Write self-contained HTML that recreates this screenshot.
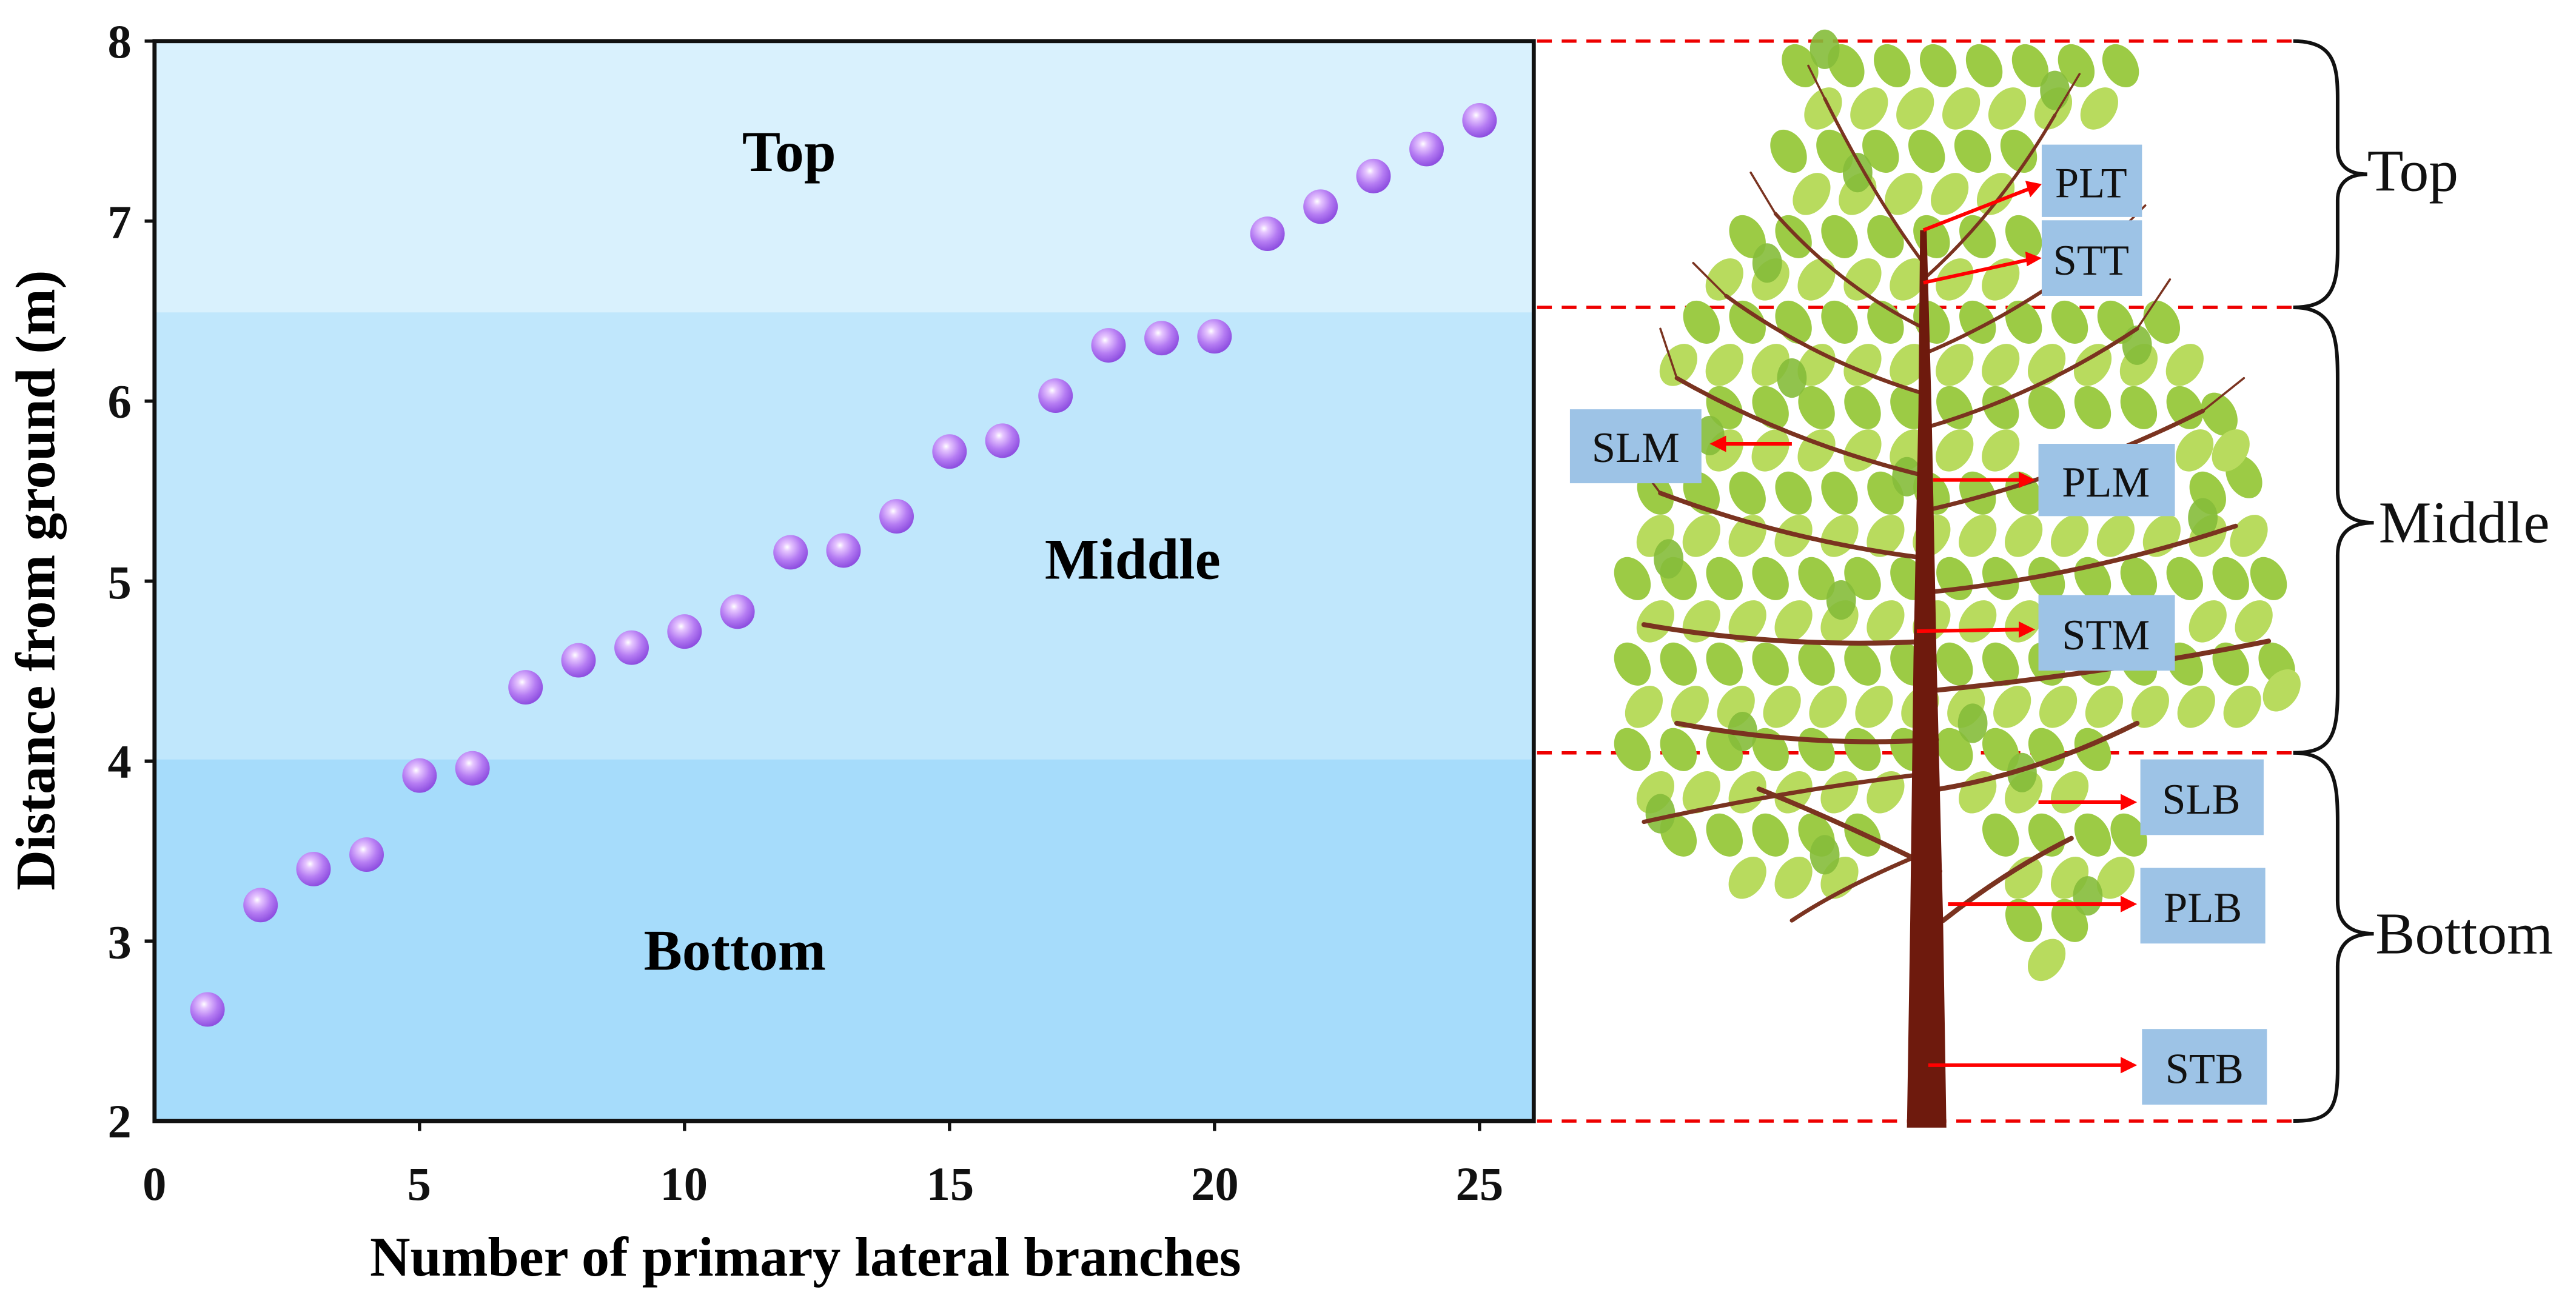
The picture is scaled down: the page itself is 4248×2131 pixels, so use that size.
<!DOCTYPE html>
<html><head><meta charset="utf-8"><style>html,body{margin:0;padding:0;background:#fff}svg{display:block}</style></head>
<body>
<svg width="4248" height="2131" viewBox="0 0 1567 786" preserveAspectRatio="none" xmlns="http://www.w3.org/2000/svg" font-family="'Liberation Serif', serif">
<defs>
<radialGradient id="ball" cx="0.4" cy="0.35" r="0.65">
<stop offset="0" stop-color="#ffffff"/><stop offset="0.18" stop-color="#e6c6ff"/><stop offset="0.6" stop-color="#b57cf3"/><stop offset="1" stop-color="#8e4fe0"/>
</radialGradient>
<ellipse id="la" rx="10" ry="14" transform="rotate(-30)"/>
<ellipse id="lb" rx="10" ry="14" transform="rotate(35)"/>
<ellipse id="lc" rx="9" ry="12"/>
</defs>
<rect x="94" y="25" width="839" height="165" fill="#d9f1fd"/>
<rect x="94" y="190" width="839" height="272" fill="#c0e7fc"/>
<rect x="94" y="462" width="839" height="220" fill="#a6dcfb"/>
<rect x="94" y="25" width="839" height="657" fill="none" stroke="#111" stroke-width="2.5"/>
<g stroke="#111" stroke-width="2">
<line x1="88" y1="25" x2="94" y2="25"/><line x1="88" y1="134.5" x2="94" y2="134.5"/><line x1="88" y1="244" x2="94" y2="244"/><line x1="88" y1="353.5" x2="94" y2="353.5"/><line x1="88" y1="463" x2="94" y2="463"/><line x1="88" y1="572.5" x2="94" y2="572.5"/>
<line x1="255.2" y1="682" x2="255.2" y2="688"/><line x1="416.4" y1="682" x2="416.4" y2="688"/><line x1="577.6" y1="682" x2="577.6" y2="688"/><line x1="738.8" y1="682" x2="738.8" y2="688"/><line x1="900" y1="682" x2="900" y2="688"/>
</g>
<g font-weight="bold" font-size="29" text-anchor="end" fill="#111">
<text x="80" y="35">8</text><text x="80" y="145">7</text><text x="80" y="254">6</text><text x="80" y="364">5</text><text x="80" y="473">4</text><text x="80" y="583">3</text><text x="80" y="692">2</text>
</g>
<g font-weight="bold" font-size="29" text-anchor="middle" fill="#111">
<text x="94" y="730">0</text><text x="255" y="730">5</text><text x="416" y="730">10</text><text x="578" y="730">15</text><text x="739" y="730">20</text><text x="900" y="730">25</text>
</g>
<text x="490" y="776" font-weight="bold" font-size="34" text-anchor="middle">Number of primary lateral branches</text>
<text transform="translate(33,353) rotate(-90)" font-weight="bold" font-size="34" text-anchor="middle">Distance from ground (m)</text>
<g font-weight="bold" font-size="35" text-anchor="middle">
<text x="480" y="104">Top</text><text x="689" y="352">Middle</text><text x="447" y="590">Bottom</text>
</g>
<g fill="url(#ball)">
<circle cx="126.2" cy="614.1" r="10.5"/><circle cx="158.5" cy="550.6" r="10.5"/><circle cx="190.7" cy="528.7" r="10.5"/><circle cx="223" cy="519.9" r="10.5"/><circle cx="255.2" cy="471.8" r="10.5"/>
<circle cx="287.4" cy="467.4" r="10.5"/><circle cx="319.7" cy="418.1" r="10.5"/><circle cx="351.9" cy="401.7" r="10.5"/><circle cx="384.2" cy="394" r="10.5"/><circle cx="416.4" cy="384.2" r="10.5"/>
<circle cx="448.6" cy="372.1" r="10.5"/><circle cx="480.9" cy="336" r="10.5"/><circle cx="513.1" cy="334.9" r="10.5"/><circle cx="545.4" cy="314.1" r="10.5"/><circle cx="577.6" cy="274.7" r="10.5"/>
<circle cx="609.8" cy="268.1" r="10.5"/><circle cx="642.1" cy="240.7" r="10.5"/><circle cx="674.3" cy="210.1" r="10.5"/><circle cx="706.6" cy="205.7" r="10.5"/><circle cx="738.8" cy="204.6" r="10.5"/>
<circle cx="771" cy="142.2" r="10.5"/><circle cx="803.3" cy="125.7" r="10.5"/><circle cx="835.5" cy="107.1" r="10.5"/><circle cx="867.8" cy="90.7" r="10.5"/><circle cx="900" cy="73.2" r="10.5"/>
</g>
<g stroke="#e00" stroke-width="2" stroke-dasharray="9,6">
<line x1="935" y1="25" x2="1395" y2="25"/><line x1="935" y1="187" x2="1395" y2="187"/><line x1="935" y1="458" x2="1395" y2="458"/><line x1="935" y1="682" x2="1395" y2="682"/>
</g>
<g fill="none" stroke="#111" stroke-width="2.2">
<path d="M1395,25 C1420,25 1422,40 1422,60 L1422,90 C1422,102 1430,106 1440,106 C1430,106 1422,110 1422,122 L1422,152 C1422,175 1418,187 1395,187"/>
<path d="M1395,187 C1420,187 1422,205 1422,230 L1422,298 C1422,312 1430,318 1444,318 C1430,318 1422,324 1422,338 L1422,420 C1422,448 1418,458 1395,458"/>
<path d="M1395,458 C1420,458 1422,475 1422,500 L1422,548 C1422,562 1430,568 1444,568 C1430,568 1422,574 1422,588 L1422,650 C1422,675 1418,682 1395,682"/>
</g>
<g font-size="36" fill="#111">
<text x="1440" y="116">Top</text><text x="1447" y="330">Middle</text><text x="1445" y="580">Bottom</text>
</g>
<g fill="#9ccb45">
<use href="#la" x="1095" y="40"/><use href="#la" x="1123" y="40"/><use href="#la" x="1151" y="40"/><use href="#la" x="1179" y="40"/><use href="#la" x="1207" y="40"/><use href="#la" x="1235" y="40"/><use href="#la" x="1263" y="40"/><use href="#la" x="1290" y="40"/>
<use href="#la" x="1088" y="92"/><use href="#la" x="1116" y="92"/><use href="#la" x="1144" y="92"/><use href="#la" x="1172" y="92"/><use href="#la" x="1200" y="92"/><use href="#la" x="1228" y="92"/>
<use href="#la" x="1063" y="144"/><use href="#la" x="1091" y="144"/><use href="#la" x="1119" y="144"/><use href="#la" x="1147" y="144"/><use href="#la" x="1175" y="144"/><use href="#la" x="1203" y="144"/><use href="#la" x="1231" y="144"/>
<use href="#la" x="1035" y="196"/><use href="#la" x="1063" y="196"/><use href="#la" x="1091" y="196"/><use href="#la" x="1119" y="196"/><use href="#la" x="1147" y="196"/><use href="#la" x="1175" y="196"/><use href="#la" x="1203" y="196"/><use href="#la" x="1231" y="196"/><use href="#la" x="1259" y="196"/><use href="#la" x="1287" y="196"/><use href="#la" x="1315" y="196"/>
<use href="#la" x="1049" y="248"/><use href="#la" x="1077" y="248"/><use href="#la" x="1105" y="248"/><use href="#la" x="1133" y="248"/><use href="#la" x="1161" y="248"/><use href="#la" x="1189" y="248"/><use href="#la" x="1217" y="248"/><use href="#la" x="1245" y="248"/><use href="#la" x="1273" y="248"/><use href="#la" x="1301" y="248"/><use href="#la" x="1329" y="248"/><use href="#la" x="1350" y="252"/>
<use href="#la" x="1007" y="300"/><use href="#la" x="1035" y="300"/><use href="#la" x="1063" y="300"/><use href="#la" x="1091" y="300"/><use href="#la" x="1119" y="300"/><use href="#la" x="1147" y="300"/><use href="#la" x="1175" y="300"/><use href="#la" x="1203" y="300"/><use href="#la" x="1231" y="300"/><use href="#la" x="1343" y="300"/><use href="#la" x="1365" y="290"/>
<use href="#la" x="993" y="352"/><use href="#la" x="1021" y="352"/><use href="#la" x="1049" y="352"/><use href="#la" x="1077" y="352"/><use href="#la" x="1105" y="352"/><use href="#la" x="1133" y="352"/><use href="#la" x="1161" y="352"/><use href="#la" x="1189" y="352"/><use href="#la" x="1217" y="352"/><use href="#la" x="1245" y="352"/><use href="#la" x="1273" y="352"/><use href="#la" x="1301" y="352"/><use href="#la" x="1329" y="352"/><use href="#la" x="1357" y="352"/><use href="#la" x="1380" y="352"/>
<use href="#la" x="993" y="404"/><use href="#la" x="1021" y="404"/><use href="#la" x="1049" y="404"/><use href="#la" x="1077" y="404"/><use href="#la" x="1105" y="404"/><use href="#la" x="1133" y="404"/><use href="#la" x="1161" y="404"/><use href="#la" x="1189" y="404"/><use href="#la" x="1217" y="404"/><use href="#la" x="1245" y="404"/><use href="#la" x="1273" y="404"/><use href="#la" x="1301" y="404"/><use href="#la" x="1329" y="404"/><use href="#la" x="1357" y="404"/><use href="#la" x="1385" y="404"/>
<use href="#la" x="993" y="456"/><use href="#la" x="1021" y="456"/><use href="#la" x="1049" y="456"/><use href="#la" x="1077" y="456"/><use href="#la" x="1105" y="456"/><use href="#la" x="1133" y="456"/><use href="#la" x="1161" y="456"/><use href="#la" x="1189" y="456"/><use href="#la" x="1217" y="456"/><use href="#la" x="1245" y="456"/><use href="#la" x="1273" y="456"/>
<use href="#la" x="1021" y="508"/><use href="#la" x="1049" y="508"/><use href="#la" x="1077" y="508"/><use href="#la" x="1105" y="508"/><use href="#la" x="1133" y="508"/><use href="#la" x="1217" y="508"/><use href="#la" x="1245" y="508"/><use href="#la" x="1273" y="508"/><use href="#la" x="1295" y="508"/>
<use href="#la" x="1231" y="560"/><use href="#la" x="1259" y="560"/>
</g>
<g fill="#b8db5e">
<use href="#lb" x="1109" y="66"/><use href="#lb" x="1137" y="66"/><use href="#lb" x="1165" y="66"/><use href="#lb" x="1193" y="66"/><use href="#lb" x="1221" y="66"/><use href="#lb" x="1249" y="66"/><use href="#lb" x="1277" y="66"/>
<use href="#lb" x="1102" y="118"/><use href="#lb" x="1130" y="118"/><use href="#lb" x="1158" y="118"/><use href="#lb" x="1186" y="118"/><use href="#lb" x="1214" y="118"/>
<use href="#lb" x="1049" y="170"/><use href="#lb" x="1077" y="170"/><use href="#lb" x="1105" y="170"/><use href="#lb" x="1133" y="170"/><use href="#lb" x="1161" y="170"/><use href="#lb" x="1189" y="170"/><use href="#lb" x="1217" y="170"/>
<use href="#lb" x="1021" y="222"/><use href="#lb" x="1049" y="222"/><use href="#lb" x="1077" y="222"/><use href="#lb" x="1105" y="222"/><use href="#lb" x="1133" y="222"/><use href="#lb" x="1161" y="222"/><use href="#lb" x="1189" y="222"/><use href="#lb" x="1217" y="222"/><use href="#lb" x="1245" y="222"/><use href="#lb" x="1273" y="222"/><use href="#lb" x="1301" y="222"/><use href="#lb" x="1329" y="222"/>
<use href="#lb" x="1049" y="274"/><use href="#lb" x="1077" y="274"/><use href="#lb" x="1105" y="274"/><use href="#lb" x="1133" y="274"/><use href="#lb" x="1161" y="274"/><use href="#lb" x="1189" y="274"/><use href="#lb" x="1217" y="274"/><use href="#lb" x="1335" y="274"/><use href="#lb" x="1357" y="274"/>
<use href="#lb" x="1007" y="326"/><use href="#lb" x="1035" y="326"/><use href="#lb" x="1063" y="326"/><use href="#lb" x="1091" y="326"/><use href="#lb" x="1119" y="326"/><use href="#lb" x="1147" y="326"/><use href="#lb" x="1175" y="326"/><use href="#lb" x="1203" y="326"/><use href="#lb" x="1231" y="326"/><use href="#lb" x="1259" y="326"/><use href="#lb" x="1287" y="326"/><use href="#lb" x="1315" y="326"/><use href="#lb" x="1343" y="326"/><use href="#lb" x="1368" y="326"/>
<use href="#lb" x="1007" y="378"/><use href="#lb" x="1035" y="378"/><use href="#lb" x="1063" y="378"/><use href="#lb" x="1091" y="378"/><use href="#lb" x="1119" y="378"/><use href="#lb" x="1147" y="378"/><use href="#lb" x="1175" y="378"/><use href="#lb" x="1203" y="378"/><use href="#lb" x="1231" y="378"/><use href="#lb" x="1343" y="378"/><use href="#lb" x="1371" y="378"/>
<use href="#lb" x="1000" y="430"/><use href="#lb" x="1028" y="430"/><use href="#lb" x="1056" y="430"/><use href="#lb" x="1084" y="430"/><use href="#lb" x="1112" y="430"/><use href="#lb" x="1140" y="430"/><use href="#lb" x="1168" y="430"/><use href="#lb" x="1196" y="430"/><use href="#lb" x="1224" y="430"/><use href="#lb" x="1252" y="430"/><use href="#lb" x="1280" y="430"/><use href="#lb" x="1308" y="430"/><use href="#lb" x="1336" y="430"/><use href="#lb" x="1364" y="430"/><use href="#lb" x="1388" y="420"/>
<use href="#lb" x="1007" y="482"/><use href="#lb" x="1035" y="482"/><use href="#lb" x="1063" y="482"/><use href="#lb" x="1091" y="482"/><use href="#lb" x="1119" y="482"/><use href="#lb" x="1147" y="482"/><use href="#lb" x="1203" y="482"/><use href="#lb" x="1231" y="482"/><use href="#lb" x="1259" y="482"/>
<use href="#lb" x="1063" y="534"/><use href="#lb" x="1091" y="534"/><use href="#lb" x="1119" y="534"/><use href="#lb" x="1231" y="534"/><use href="#lb" x="1259" y="534"/><use href="#lb" x="1287" y="534"/>
<use href="#lb" x="1245" y="584"/>
</g>
<g fill="#86bd3a" opacity="0.9">
<use href="#lc" x="1110" y="30"/><use href="#lc" x="1250" y="55"/><use href="#lc" x="1130" y="105"/><use href="#lc" x="1075" y="160"/><use href="#lc" x="1300" y="210"/><use href="#lc" x="1040" y="265"/><use href="#lc" x="1340" y="315"/><use href="#lc" x="1015" y="340"/><use href="#lc" x="1120" y="365"/><use href="#lc" x="1270" y="390"/><use href="#lc" x="1060" y="445"/><use href="#lc" x="1230" y="470"/><use href="#lc" x="1010" y="495"/><use href="#lc" x="1110" y="520"/><use href="#lc" x="1270" y="545"/><use href="#lc" x="1200" y="440"/><use href="#lc" x="1160" y="290"/><use href="#lc" x="1090" y="230"/>
</g>
<g stroke="#7a3320" stroke-linecap="round" fill="none">
<path d="M1170,160 Q1140,120 1110,60" stroke-width="2"/><path d="M1170,170 Q1215,130 1250,70" stroke-width="2"/>
<path d="M1171,200 Q1120,175 1080,130" stroke-width="2.2"/><path d="M1171,215 Q1230,190 1280,150" stroke-width="2.2"/>
<path d="M1172,240 Q1105,220 1050,180" stroke-width="2.4"/><path d="M1172,260 Q1240,240 1300,200" stroke-width="2.4"/>
<path d="M1173,290 Q1090,270 1020,230" stroke-width="2.6"/><path d="M1174,310 Q1260,290 1340,250" stroke-width="2.6"/>
<path d="M1175,340 Q1090,330 1010,300" stroke-width="2.8"/><path d="M1176,360 Q1270,350 1360,320" stroke-width="2.8"/>
<path d="M1176,390 Q1085,395 1000,380" stroke-width="3"/><path d="M1177,420 Q1280,410 1380,390" stroke-width="3"/>
<path d="M1178,450 Q1100,455 1020,440" stroke-width="3"/><path d="M1180,480 Q1240,470 1300,440" stroke-width="3"/>
<path d="M1178,470 Q1090,480 1000,500" stroke-width="2.6"/><path d="M1180,530 Q1120,500 1070,480" stroke-width="3"/>
<path d="M1182,560 Q1220,530 1260,510" stroke-width="3"/><path d="M1168,520 Q1120,540 1090,560" stroke-width="2.5"/>
<path d="M1110,60 l-10,-20 M1080,130 l-15,-25 M1050,180 l-20,-20 M1020,230 l-10,-30 M1010,300 l-15,-20 M1250,70 l15,-25 M1280,150 l25,-25 M1300,200 l20,-30 M1340,250 l25,-20" stroke-width="1.3"/>
</g>
<polygon points="1160,686 1184,686 1182,560 1178,400 1175,250 1172,140 1168,140 1167,250 1164,400 1162,560" fill="#6e1a0d"/>
<g fill="#9dc3e6">
<rect x="1242" y="88" width="61" height="44"/><rect x="1242" y="134" width="61" height="46"/>
<rect x="955" y="249" width="80" height="45"/><rect x="1240" y="270" width="83" height="44"/>
<rect x="1240" y="362" width="83" height="46"/><rect x="1302" y="462" width="75" height="46"/>
<rect x="1302" y="528" width="76" height="46"/><rect x="1303" y="626" width="76" height="46"/>
</g>
<g font-size="26" text-anchor="middle" fill="#111">
<text x="1272" y="120">PLT</text><text x="1272" y="167">STT</text><text x="995" y="281">SLM</text><text x="1281" y="302">PLM</text>
<text x="1281" y="395">STM</text><text x="1339" y="495">SLB</text><text x="1340" y="561">PLB</text><text x="1341" y="659">STB</text>
</g>
<g stroke="#f00" stroke-width="2.2">
<line x1="1170" y1="140" x2="1234" y2="115"/><line x1="1170" y1="172" x2="1234" y2="158"/>
<line x1="1090" y1="270" x2="1046" y2="270"/><line x1="1176" y1="292" x2="1230" y2="292"/>
<line x1="1166" y1="384" x2="1230" y2="383"/><line x1="1240" y1="488" x2="1292" y2="488"/>
<line x1="1185" y1="550" x2="1292" y2="550"/><line x1="1173" y1="648" x2="1292" y2="648"/>
</g>
<g fill="#f00">
<polygon points="1242,112 1232,110 1235,120"/><polygon points="1242,157 1232,153 1233,162"/>
<polygon points="1040,270 1050,265 1050,275"/><polygon points="1238,292 1228,287 1228,297"/>
<polygon points="1238,383 1228,378 1228,388"/><polygon points="1300,488 1290,483 1290,493"/>
<polygon points="1300,550 1290,545 1290,555"/><polygon points="1300,648 1290,643 1290,653"/>
</g>
</svg>
</body></html>
